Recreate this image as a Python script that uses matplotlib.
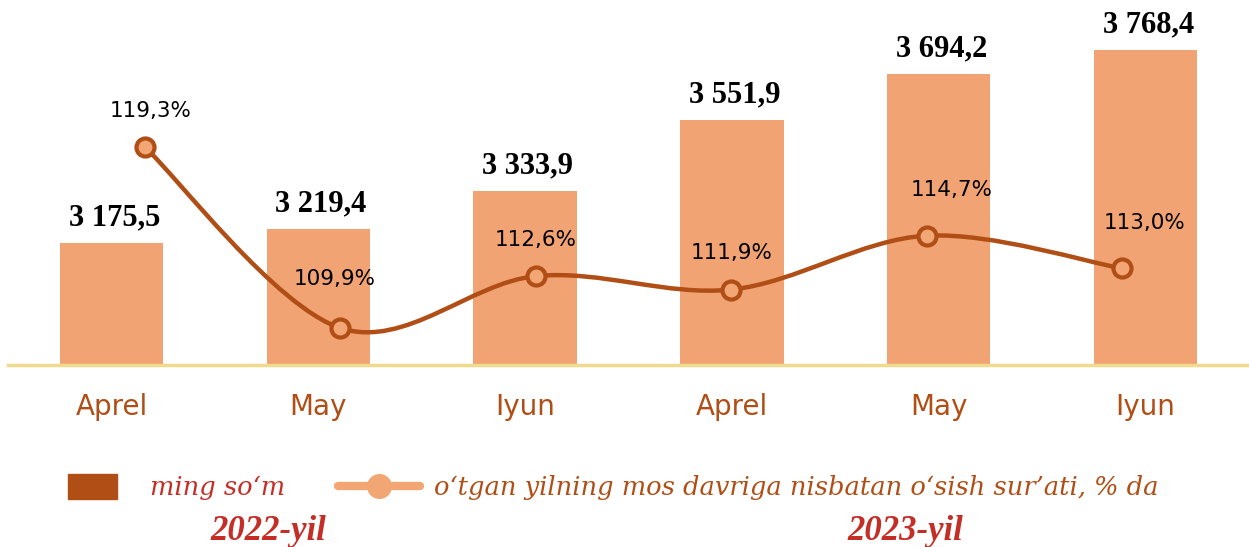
import matplotlib
matplotlib.use("Agg")
import matplotlib.pyplot as plt
import numpy as np
from matplotlib.path import Path
from matplotlib.patches import PathPatch, Patch
from matplotlib.lines import Line2D

categories = ["Aprel", "May", "Iyun", "Aprel", "May", "Iyun"]
values = [3175.5, 3219.4, 3333.9, 3551.9, 3694.2, 3768.4]
value_labels = ["3 175,5", "3 219,4", "3 333,9", "3 551,9", "3 694,2", "3 768,4"]
growth = [119.3, 109.9, 112.6, 111.9, 114.7, 113.0]
growth_labels = ["119,3%", "109,9%", "112,6%", "111,9%", "114,7%", "113,0%"]
years = ["2022-yil", "2023-yil"]
legend_labels = ["ming so‘m", "o‘tgan yilning mos davriga nisbatan o‘sish sur’ati, % da"]

BAR = "#F1A373"
DARK = "#B04E16"
LIGHT = "#F2A674"
RED = "#C42E26"
GOLD = "#F0DA8C"

W, H = 1249, 547
fig = plt.figure(figsize=(W / 100, H / 100), dpi=100)

def px_rect(l, t, r, b):
    return [l / W, 1 - b / H, (r - l) / W, (b - t) / H]

ax = fig.add_axes(px_rect(8, 0, 1249, 365))
x = np.arange(len(categories))
ax.bar(x, values, width=0.5, color=BAR, zorder=2)
ax.set_xlim(-0.5, 5.5)
ax.set_ylim(2800.7, 3921)
for s in ["left", "right", "top"]:
    ax.spines[s].set_visible(False)
ax.spines["bottom"].set_color(GOLD)
ax.spines["bottom"].set_linewidth(2.5)
ax.set_yticks([])
ax.set_xticks(x)
ax.set_xticklabels(categories, fontsize=20, color=DARK, family="DejaVu Sans")
ax.tick_params(axis="x", length=0, pad=20)
for xi, v, lab in zip(x, values, value_labels):
    ax.annotate(lab, (xi, v), xytext=(2, 18), textcoords="offset points",
                ha="center", va="center", fontsize=22, fontweight="bold",
                family="Liberation Serif", color="black")

# growth line on its own axes
ax2 = fig.add_axes(px_rect(8, 0, 1249, 365))
ax2.patch.set_visible(False)
ax2.axis("off")
ax2.set_xlim((8 - 145) / 195.4, (1249 - 145) / 195.4)
ax2.set_ylim(107.98, 126.95)
gx = np.arange(len(growth), dtype=float)
gy = np.array(growth, dtype=float)
P = np.column_stack([gx, gy])
verts = [P[0]]
codes = [Path.MOVETO]
n = len(P)
for i in range(n - 1):
    p0 = P[i - 1] if i > 0 else P[i]
    p1 = P[i]
    p2 = P[i + 1]
    p3 = P[i + 2] if i + 2 < n else P[i + 1]
    c1 = p1 + (p2 - p0) / 6
    c2 = p2 - (p3 - p1) / 6
    verts += [c1, c2, p2]
    codes += [Path.CURVE4] * 3
ax2.add_patch(PathPatch(Path(verts, codes), fill=False, edgecolor=DARK, lw=3.2, zorder=3))
ax2.plot(gx, gy, ls="none", marker="o", ms=13, mfc=LIGHT, mec=DARK, mew=3, zorder=4)
offsets = [(4, 26), (-4, 35), (0, 26), (0, 26), (18, 33), (16, 33)]
for xi, v, lab, off in zip(gx, gy, growth_labels, offsets):
    ax2.annotate(lab, (xi, v), xytext=off, textcoords="offset points",
                 ha="center", va="center", fontsize=15.5, color="black",
                 family="DejaVu Sans")

# legends
leg_prop = {"family": "DejaVu Serif", "style": "italic", "size": 18.5}
h1 = Patch(facecolor=DARK, edgecolor=DARK)
leg1 = fig.legend([h1], [legend_labels[0]], loc="center left",
                  bbox_to_anchor=(50 / W, 1 - 487 / H), frameon=False,
                  prop=leg_prop, borderpad=0.2,
                  handlelength=1.9, handleheight=1.1, handletextpad=1.3)
leg1.get_texts()[0].set_color(RED)
h2 = Line2D([0], [0], color=LIGHT, lw=6, marker="o", ms=17, mfc=LIGHT, mec=LIGHT,
            solid_capstyle="round")
leg2 = fig.legend([h2], [legend_labels[1]], loc="center left",
                  bbox_to_anchor=(320 / W, 1 - 487 / H), frameon=False,
                  prop=leg_prop, borderpad=0.2,
                  handlelength=3.2, handletextpad=0.55)
leg2.get_texts()[0].set_color(DARK)

for xp, yr in zip([268, 905], years):
    fig.text(xp / W, 1 - 532 / H, yr, ha="center", va="center", fontsize=25,
             fontweight="bold", style="italic", family="Liberation Serif", color=RED)

fig.savefig("out.png", dpi=100)
